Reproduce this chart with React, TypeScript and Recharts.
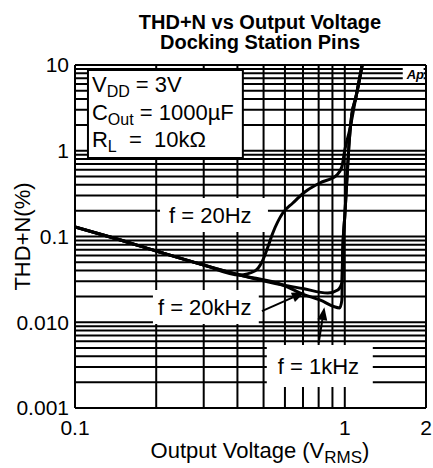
import React from 'react';
import { LineChart, Line, XAxis, YAxis, CartesianGrid, ReferenceArea, ReferenceLine } from 'recharts';

const FONT = '"Liberation Sans", Arial, Helvetica, sans-serif';

// f = 20Hz
const v20Hz = [0.1, 0.135, 0.2, 0.3, 0.408, 0.464, 0.493, 0.514, 0.541, 0.589, 0.642, 0.711, 0.808, 0.934, 0.975, 1.0, 1.043, 1.098, 1.16];
const thd20Hz = [0.129, 0.0986, 0.0678, 0.0465, 0.0356, 0.0396, 0.0504, 0.0696, 0.11, 0.188, 0.246, 0.33, 0.421, 0.521, 0.646, 1.02, 1.75, 4.12, 10];

// f = 1kHz
const v1kHz = [0.1, 0.135, 0.2, 0.3, 0.408, 0.589, 0.699, 0.808, 0.958, 0.975, 0.983, 1.0, 1.017, 1.035, 1.061, 1.098, 1.16];
const thd1kHz = [0.129, 0.0986, 0.0678, 0.0465, 0.0356, 0.0272, 0.0213, 0.0182, 0.0147, 0.018, 0.07, 0.173, 0.432, 1.106, 2.61, 4.12, 10];

// f = 20kHz
const v20kHz = [0.1, 0.135, 0.2, 0.3, 0.408, 0.589, 0.699, 0.865, 0.942, 0.975, 0.983, 1.0, 1.017, 1.035, 1.061, 1.098, 1.16];
const thd20kHz = [0.129, 0.0986, 0.0678, 0.0465, 0.0356, 0.0272, 0.0247, 0.0219, 0.0238, 0.0287, 0.07, 0.173, 0.432, 1.106, 2.61, 4.12, 10];

const xTicks = [0.1, 0.2, 0.3, 0.4, 0.5, 0.6, 0.7, 0.8, 0.9, 1, 2];
const xTickLabels: Record<string, string> = { '0.1': '0.1', '1': '1', '2': '2' };

const yTicks = [
  0.001, 0.002, 0.003, 0.004, 0.005, 0.006, 0.007, 0.008, 0.009,
  0.01, 0.02, 0.03, 0.04, 0.05, 0.06, 0.07, 0.08, 0.09,
  0.1, 0.2, 0.3, 0.4, 0.5, 0.6, 0.7, 0.8, 0.9,
  1, 2, 3, 4, 5, 6, 7, 8, 9, 10,
];
const yTickLabels: Record<string, string> = { '0.001': '0.001', '0.01': '0.010', '0.1': '0.1', '1': '1', '10': '10' };

const rows = (v: number[], thd: number[]) => v.map((x, i) => ({ v: x, thd: thd[i] }));

const boxText = (text: string, dx: number) => (props: any) => {
  const { x, y, height } = props.viewBox;
  return (
    <text x={x + dx} y={y + height / 2} dy="0.36em" fontSize={22} fontFamily={FONT} fill="#000">
      {text}
    </text>
  );
};

const renderConditions = (props: any) => {
  const { x, y } = props.viewBox;
  const tx = x + 4;
  return (
    <g fontFamily={FONT} fontSize={22} fill="#000">
      <text x={tx} y={y + 22}>
        V<tspan fontSize={16} dy={5}>DD</tspan>
        <tspan dy={-5}> = 3V</tspan>
      </text>
      <text x={tx} y={y + 50}>
        C<tspan fontSize={16} dy={5}>Out</tspan>
        <tspan dy={-5}> = 1000µF</tspan>
      </text>
      <text x={tx} y={y + 77}>
        R<tspan fontSize={16} dy={5}>L</tspan>
        <tspan dy={-5}>{'\u00a0\u00a0=\u00a0\u00a010kΩ'}</tspan>
      </text>
    </g>
  );
};

const renderLogo = (props: any) => {
  const { x, y } = props.viewBox;
  return (
    <text x={x + 4} y={y + 12} fontSize={13} fontWeight="bold" fontStyle="italic" fontFamily={FONT} fill="#000">
      Ap
    </text>
  );
};

const Arrow = (props: any) => {
  const { x1, y1, x2, y2 } = props;
  const ang = Math.atan2(y2 - y1, x2 - x1);
  const len = 13;
  const w = 5;
  const bx = x2 - len * Math.cos(ang);
  const by = y2 - len * Math.sin(ang);
  const px = -Math.sin(ang) * w;
  const py = Math.cos(ang) * w;
  return (
    <g>
      <line x1={x1} y1={y1} x2={bx} y2={by} stroke="#000" strokeWidth={2} />
      <polygon points={`${x2},${y2} ${bx + px},${by + py} ${bx - px},${by - py}`} fill="#000" />
    </g>
  );
};

const renderXLabel = (props: any) => {
  const { x, y } = props.viewBox;
  return (
    <text x={x + 185} y={y + 50} textAnchor="middle" fontSize={22} fontFamily={FONT} fill="#000">
      Output Voltage (V<tspan fontSize={17} dy={5}>RMS</tspan>
      <tspan dy={-5}>)</tspan>
    </text>
  );
};

const renderYLabel = (props: any) => {
  const { x, y, height } = props.viewBox;
  const cx = x + 30;
  const cy = y + height / 2;
  return (
    <text x={cx} y={cy} transform={`rotate(-90, ${cx}, ${cy})`} textAnchor="middle" fontSize={22} fontFamily={FONT} fill="#000">
      THD+N(%)
    </text>
  );
};

const tickStyle = { fill: '#000', fontSize: 21, fontFamily: FONT };

const titleLine = (top: number): React.CSSProperties => ({
  position: 'absolute',
  left: 60,
  top,
  width: 400,
  textAlign: 'center',
  fontWeight: 'bold',
  fontSize: 20,
  lineHeight: '20px',
  color: '#000',
  whiteSpace: 'nowrap',
});

export default function App() {
  return (
    <div style={{ position: 'absolute', left: 0, top: 0, width: 433, height: 468, background: '#fff', fontFamily: FONT }}>
      <div style={titleLine(12)}>THD+N vs Output Voltage</div>
      <div style={titleLine(32)}>Docking Station Pins</div>
      <LineChart width={433} height={468} margin={{ top: 65, right: 7, bottom: 0, left: 0 }}>
        <CartesianGrid stroke="#000" strokeWidth={2} />
        <XAxis
          type="number"
          dataKey="v"
          scale="log"
          domain={[0.1, 2]}
          allowDataOverflow
          ticks={xTicks}
          interval={0}
          tickFormatter={(t: number) => xTickLabels[String(t)] ?? ''}
          tick={tickStyle}
          axisLine={false}
          tickLine={false}
          tickSize={6}
          tickMargin={6}
          height={60}
          label={{ content: renderXLabel }}
        />
        <YAxis
          type="number"
          scale="log"
          domain={[0.001, 10]}
          allowDataOverflow
          ticks={yTicks}
          interval={0}
          tickFormatter={(t: number) => yTickLabels[String(t)] ?? ''}
          tick={tickStyle}
          axisLine={false}
          tickLine={false}
          tickSize={3}
          tickMargin={3}
          width={75}
          label={{ content: renderYLabel }}
        />
        <ReferenceArea x1={0.1117} x2={0.419} y1={0.822} y2={8.75} fill="#fff" fillOpacity={1} stroke="#000" strokeWidth={2} label={renderConditions} />
        <ReferenceArea x1={1.64} x2={1.96} y1={6.68} y2={9.48} fill="#fff" fillOpacity={1} stroke="none" label={renderLogo} />
        <ReferenceArea x1={0.2066} x2={0.519} y1={0.1127} y2={0.281} fill="#fff" fillOpacity={1} stroke="none" label={boxText('f = 20Hz', 9)} />
        <ReferenceArea x1={0.1945} x2={0.48} y1={0.00955} y2={0.0238} fill="#fff" fillOpacity={1} stroke="none" label={boxText('f = 20kHz', 5)} />
        <ReferenceArea x1={0.514} x2={1.27} y1={0.00176} y2={0.00543} fill="#fff" fillOpacity={1} stroke="none" label={boxText('f = 1kHz', 11)} />
        <Line data={rows(v20Hz, thd20Hz)} dataKey="thd" type="monotone" stroke="#000" strokeWidth={3} dot={false} isAnimationActive={false} />
        <Line data={rows(v20kHz, thd20kHz)} dataKey="thd" type="monotone" stroke="#000" strokeWidth={3} dot={false} isAnimationActive={false} />
        <Line data={rows(v1kHz, thd1kHz)} dataKey="thd" type="monotone" stroke="#000" strokeWidth={3} dot={false} isAnimationActive={false} />
        <ReferenceLine segment={[{ x: 0.493, y: 0.0135 }, { x: 0.711, y: 0.0225 }]} shape={Arrow} />
        <ReferenceLine segment={[{ x: 0.8, y: 0.00573 }, { x: 0.84, y: 0.015 }]} shape={Arrow} />
      </LineChart>
    </div>
  );
}
